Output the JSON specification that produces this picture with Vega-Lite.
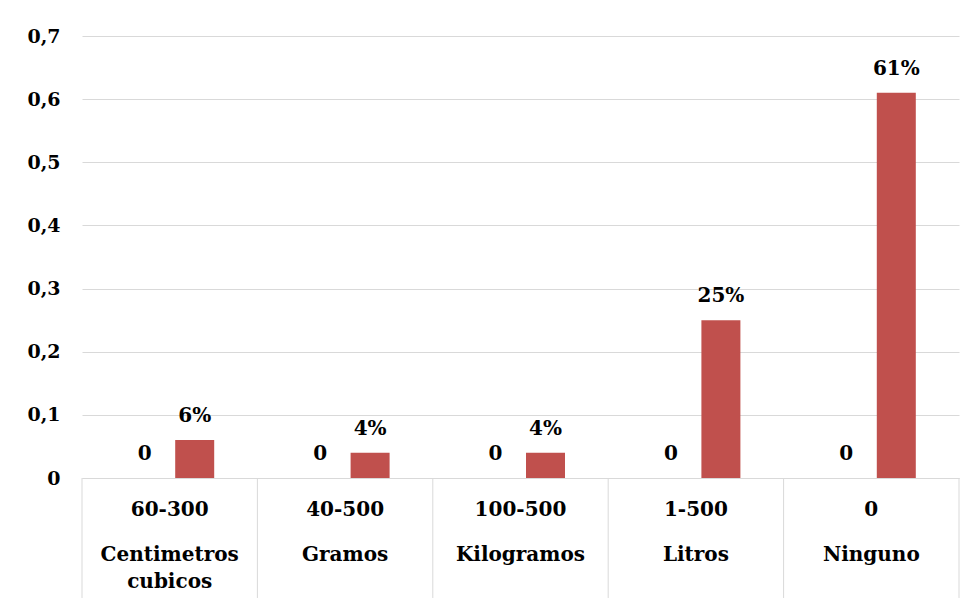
{
  "$schema": "https://vega.github.io/schema/vega-lite/v6.json",
  "width": 877,
  "height": 442,
  "autosize": {"type": "none"},
  "padding": {"left": 82, "top": 36, "right": 16, "bottom": 126},
  "background": "white",
  "config": {
    "view": {"stroke": null},
    "font": "DejaVu Serif"
  },
  "data": {
    "values": [
      {"categoria": "Centimetros cubicos", "rango": "60-300", "serie": "a", "valor": 0},
      {"categoria": "Centimetros cubicos", "rango": "60-300", "serie": "b", "valor": 0.06},
      {"categoria": "Gramos", "rango": "40-500", "serie": "a", "valor": 0},
      {"categoria": "Gramos", "rango": "40-500", "serie": "b", "valor": 0.04},
      {"categoria": "Kilogramos", "rango": "100-500", "serie": "a", "valor": 0},
      {"categoria": "Kilogramos", "rango": "100-500", "serie": "b", "valor": 0.04},
      {"categoria": "Litros", "rango": "1-500", "serie": "a", "valor": 0},
      {"categoria": "Litros", "rango": "1-500", "serie": "b", "valor": 0.25},
      {"categoria": "Ninguno", "rango": "0", "serie": "a", "valor": 0},
      {"categoria": "Ninguno", "rango": "0", "serie": "b", "valor": 0.61}
    ]
  },
  "encoding": {
    "x": {
      "field": "categoria",
      "type": "nominal",
      "sort": null,
      "title": null,
      "scale": {"paddingInner": 0, "paddingOuter": 0},
      "axis": {
        "ticks": false,
        "domainColor": "#D9D9D9",
        "domainWidth": 1,
        "labelAngle": 0,
        "labelFont": "DejaVu Serif",
        "labelFontWeight": "bold",
        "labelFontSize": 20,
        "labelColor": "#000000",
        "labelBaseline": "top",
        "labelPadding": 66,
        "labelLineHeight": 27,
        "labelExpr": "split(datum.label, ' ')"
      }
    }
  },
  "layer": [
    {
      "mark": {"type": "bar", "color": "#C0504D"},
      "encoding": {
        "xOffset": {"field": "serie", "type": "nominal", "scale": {"paddingInner": 0.22, "paddingOuter": 0.864}},
        "y": {
          "field": "valor",
          "type": "quantitative",
          "title": null,
          "scale": {"domain": [0, 0.7], "nice": false, "zero": true},
          "axis": {
            "values": [0, 0.1, 0.2, 0.3, 0.4, 0.5, 0.6, 0.7],
            "labelExpr": "datum.value == 0 ? '0' : replace(format(datum.value, '.1f'), '.', ',')",
            "domain": false,
            "ticks": false,
            "gridColor": "#D9D9D9",
            "gridWidth": 1,
            "labelFont": "DejaVu Serif",
            "labelFontWeight": "bold",
            "labelFontSize": 19,
            "labelColor": "#000000",
            "labelPadding": 22
          }
        }
      }
    },
    {
      "transform": [{"filter": "datum.serie == 'a'"}],
      "mark": {"type": "text", "font": "DejaVu Serif", "fontWeight": "bold", "fontSize": 20, "color": "#000000", "baseline": "alphabetic", "dy": -18},
      "encoding": {
        "xOffset": {"field": "serie", "type": "nominal", "scale": {"paddingInner": 0.22, "paddingOuter": 0.864}},
        "y": {"field": "valor", "type": "quantitative"},
        "text": {"field": "valor", "type": "quantitative", "format": "d"}
      }
    },
    {
      "transform": [{"filter": "datum.serie == 'b'"}],
      "mark": {"type": "text", "font": "DejaVu Serif", "fontWeight": "bold", "fontSize": 20, "color": "#000000", "baseline": "alphabetic", "dy": -18},
      "encoding": {
        "xOffset": {"field": "serie", "type": "nominal", "scale": {"paddingInner": 0.22, "paddingOuter": 0.864}},
        "y": {"field": "valor", "type": "quantitative"},
        "text": {"field": "valor", "type": "quantitative", "format": ".0%"}
      }
    },
    {
      "transform": [{"filter": "datum.serie == 'a'"}],
      "mark": {"type": "text", "font": "DejaVu Serif", "fontWeight": "bold", "fontSize": 20, "color": "#000000", "baseline": "alphabetic"},
      "encoding": {
        "y": {"datum": -0.0607},
        "text": {"field": "rango", "type": "nominal"}
      }
    },
    {
      "transform": [{"filter": "datum.serie == 'a'"}],
      "mark": {"type": "rule", "color": "#D9D9D9", "strokeWidth": 1},
      "encoding": {
        "x": {"field": "categoria", "type": "nominal", "sort": null, "bandPosition": 0},
        "y": {"datum": 0},
        "y2": {"datum": -0.19}
      }
    },
    {
      "transform": [{"filter": "datum.serie == 'a' && datum.categoria == 'Ninguno'"}],
      "mark": {"type": "rule", "color": "#D9D9D9", "strokeWidth": 1},
      "encoding": {
        "x": {"field": "categoria", "type": "nominal", "sort": null, "bandPosition": 1},
        "y": {"datum": 0},
        "y2": {"datum": -0.19}
      }
    }
  ]
}
